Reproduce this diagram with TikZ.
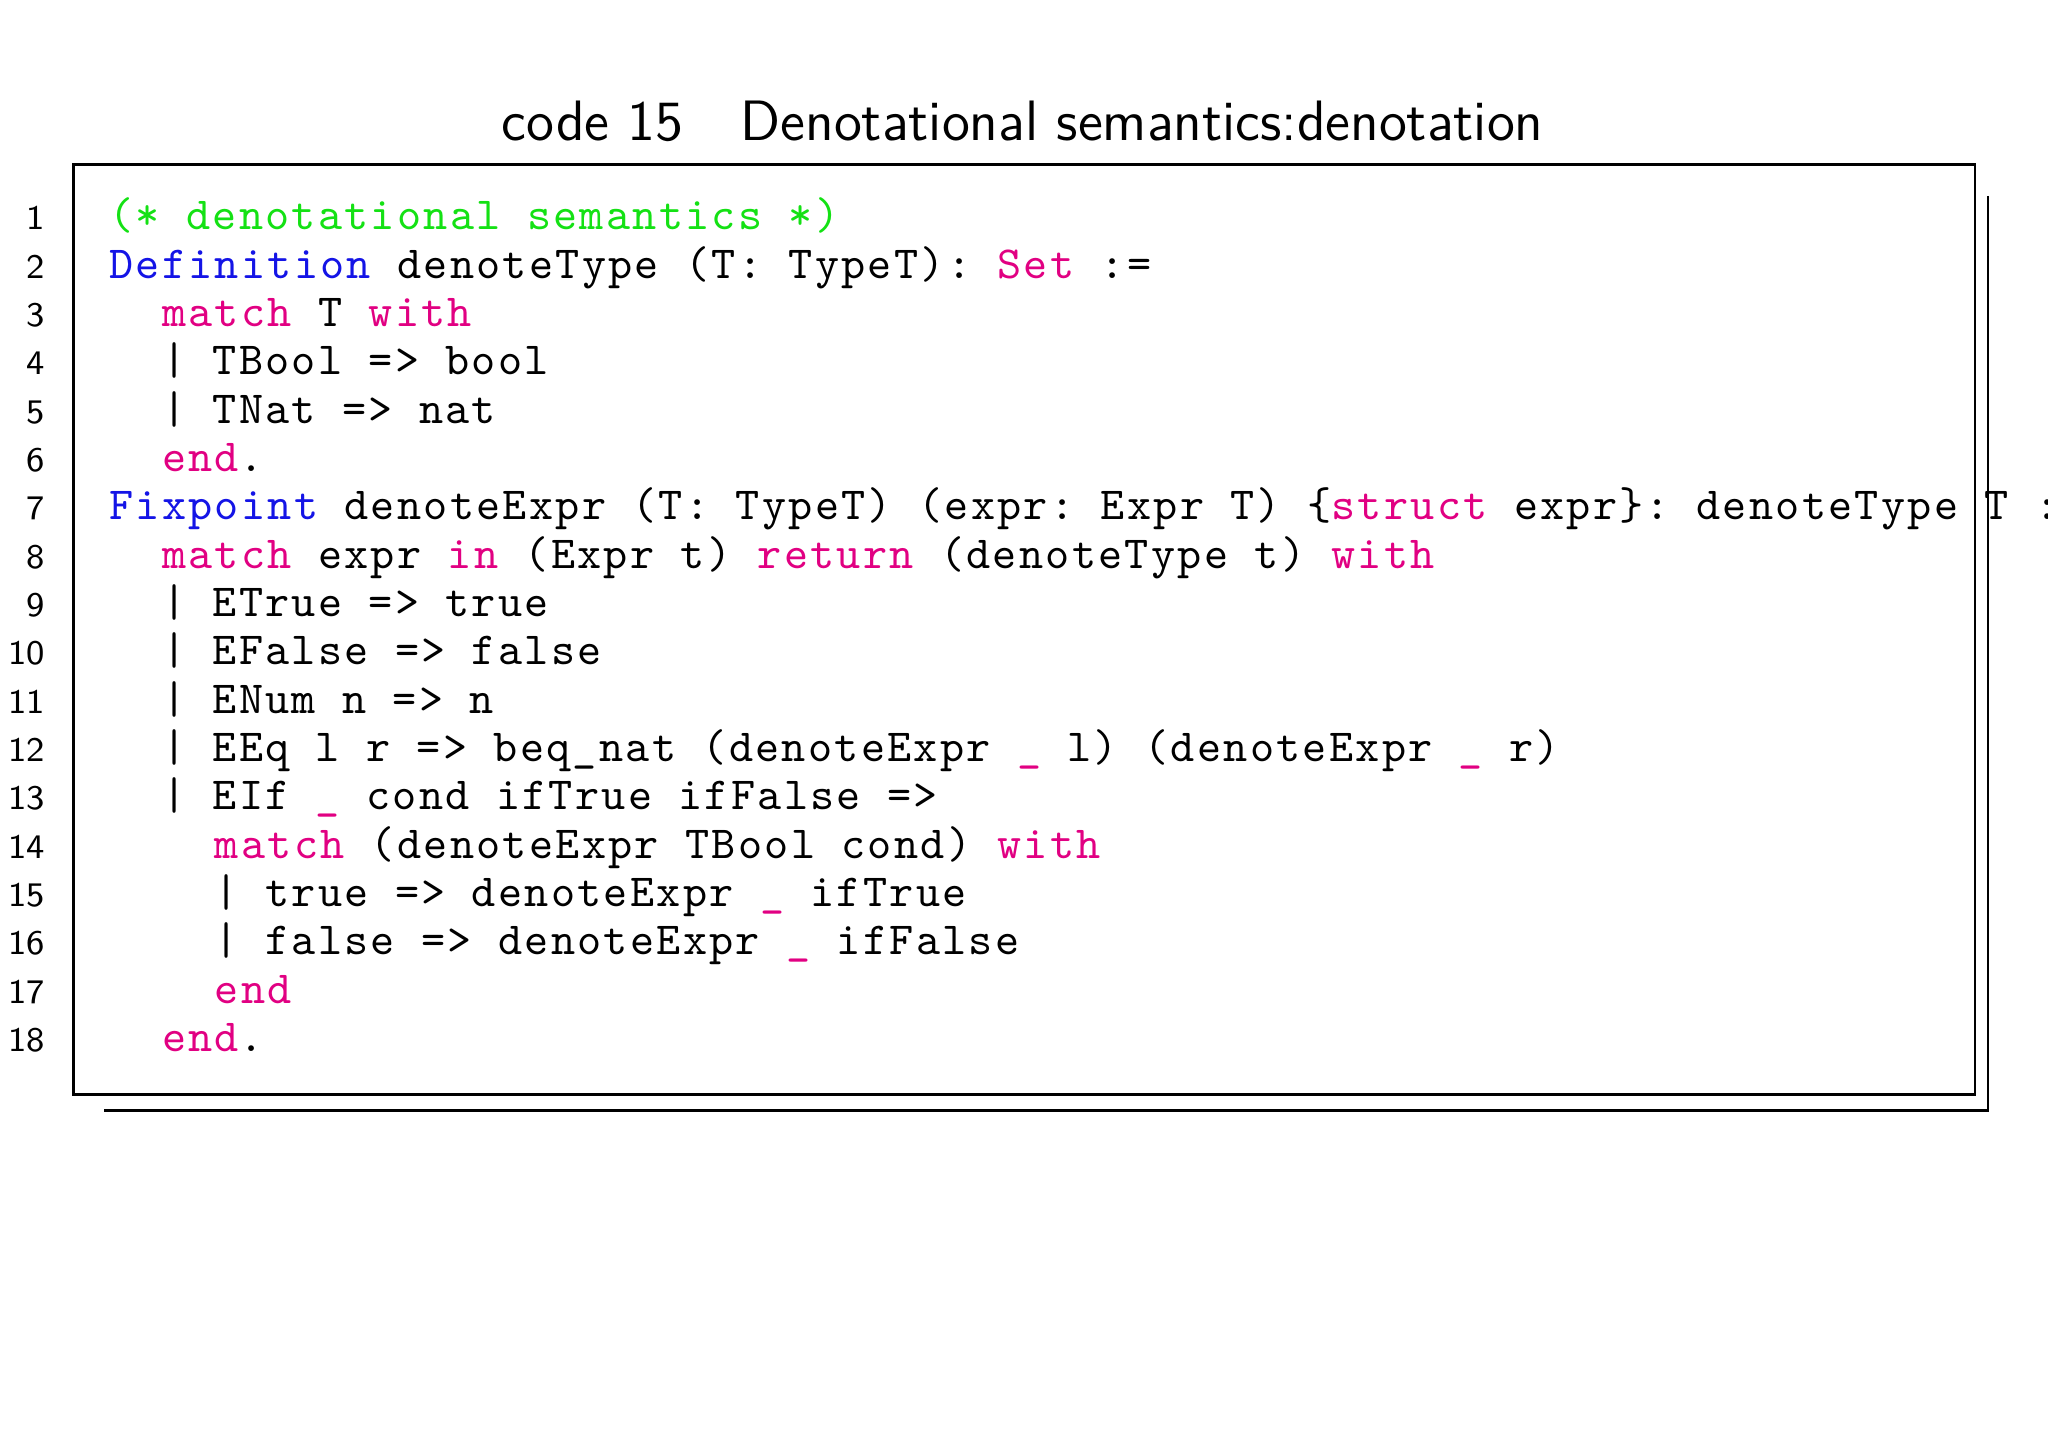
\documentclass[tikz,border=0pt]{standalone}
\usepackage{fontspec}
\setmonofont{Latin Modern Mono}[LetterSpace=5.0]
\usepackage{tikz}
\usetikzlibrary{positioning}
\definecolor{cgreen}{RGB}{20,225,20}
\definecolor{cblue}{RGB}{20,20,230}
\definecolor{cmag}{RGB}{225,0,130}
\newcommand{\kw}[1]{\textcolor{cmag}{#1}}
\newcommand{\kd}[1]{\textcolor{cblue}{#1}}

\begin{document}
\begin{tikzpicture}[x=1cm,y=-1cm,
  codeline/.style={anchor=base west,inner sep=0pt,font=\fontsize{10}{12}\ttfamily},
  lineno/.style={anchor=base east,inner sep=0pt,font=\fontsize{7.5}{9}\sffamily}]
  \useasboundingbox (0,0) rectangle (15.68,11.08);
  \node[font=\fontsize{12.4}{15}\sffamily] (title) at (7.83,0.93) {code 15\quad Denotational semantics:denotation};
  % frame and shadow
  \draw[line width=0.6pt] (0.56,1.26) rectangle (15.12,8.38);
  \draw[line width=0.6pt] (15.22,1.50) -- (15.22,8.50) -- (0.80,8.50);
  % line numbers
  \foreach \i in {1,...,18}
    \node[lineno] (n\i) at (0.35,{1.76+0.37*(\i-1)}) {\i};
  % code
  \node[codeline] (l1) at (0.83,1.76) {\textcolor{cgreen}{(* denotational semantics *)}};
  \node[codeline] (l2) at (0.83,2.13) {\kd{Definition} denoteType (T: TypeT): \kw{Set} :=};
  \node[codeline] (l3) at (0.83,2.50) {~~\kw{match} T \kw{with}};
  \node[codeline] (l4) at (0.83,2.87) {~~| TBool => bool};
  \node[codeline] (l5) at (0.83,3.24) {~~| TNat => nat};
  \node[codeline] (l6) at (0.83,3.61) {~~\kw{end}.};
  \node[codeline] (l7) at (0.83,3.98) {\kd{Fixpoint} denoteExpr (T: TypeT) (expr: Expr T) \{\kw{struct} expr\}: denoteType T :=};
  \node[codeline] (l8) at (0.83,4.35) {~~\kw{match} expr \kw{in} (Expr t) \kw{return} (denoteType t) \kw{with}};
  \node[codeline] (l9) at (0.83,4.72) {~~| ETrue => true};
  \node[codeline] (l10) at (0.83,5.09) {~~| EFalse => false};
  \node[codeline] (l11) at (0.83,5.46) {~~| ENum n => n};
  \node[codeline] (l12) at (0.83,5.83) {~~| EEq l r => beq\_nat (denoteExpr \kw{\_} l) (denoteExpr \kw{\_} r)};
  \node[codeline] (l13) at (0.83,6.20) {~~| EIf \kw{\_} cond ifTrue ifFalse =>};
  \node[codeline] (l14) at (0.83,6.57) {~~~~\kw{match} (denoteExpr TBool cond) \kw{with}};
  \node[codeline] (l15) at (0.83,6.94) {~~~~| true => denoteExpr \kw{\_} ifTrue};
  \node[codeline] (l16) at (0.83,7.31) {~~~~| false => denoteExpr \kw{\_} ifFalse};
  \node[codeline] (l17) at (0.83,7.68) {~~~~\kw{end}};
  \node[codeline] (l18) at (0.83,8.05) {~~\kw{end}.};
\end{tikzpicture}
\end{document}
